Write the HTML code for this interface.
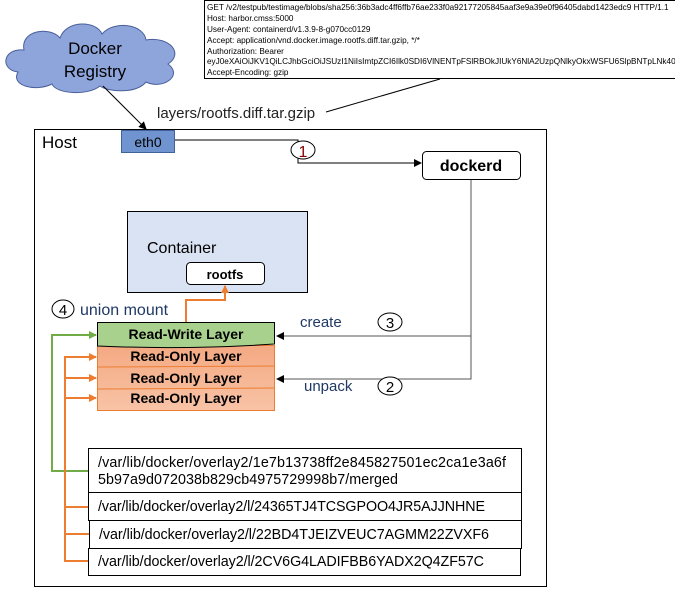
<!DOCTYPE html>
<html><head><meta charset="utf-8"><style>
body{margin:0;background:#fff;width:675px;height:589px;overflow:hidden;font-family:"Liberation Sans","Noto Sans CJK SC",sans-serif}
</style></head><body>
<svg width="675" height="589" xmlns="http://www.w3.org/2000/svg" style="position:absolute;left:0;top:0">
<defs>
<marker id="ak" markerWidth="8" markerHeight="8" refX="7" refY="4" orient="auto" markerUnits="userSpaceOnUse"><path d="M0,0 L8,4 L0,8z" fill="#000"/></marker>
<marker id="ao" markerWidth="8" markerHeight="8" refX="7" refY="4" orient="auto" markerUnits="userSpaceOnUse"><path d="M0,0 L8,4 L0,8z" fill="#ed7d31"/></marker>
<marker id="ag" markerWidth="8" markerHeight="8" refX="7" refY="4" orient="auto" markerUnits="userSpaceOnUse"><path d="M0,0 L8,4 L0,8z" fill="#70ad47"/></marker>
<linearGradient id="og" x1="0" y1="0" x2="0" y2="1"><stop offset="0" stop-color="#f4a982"/><stop offset="1" stop-color="#f8c3a6"/></linearGradient>
</defs>
<rect x="34.5" y="129.5" width="512" height="457" fill="none" stroke="#000"/>
<text x="42" y="148" font-size="17">Host</text>
<rect x="204.5" y="0.5" width="480" height="78" fill="#fff" stroke="#000"/>
<g font-size="8.2" fill="#000">
<text x="207" y="10">GET /v2/testpub/testimage/blobs/sha256:36b3adc4ff6ffb76ae233f0a92177205845aaf3e9a39e0f96405dabd1423edc9 HTTP/1.1</text>
<text x="207" y="21">Host: harbor.cmss:5000</text>
<text x="207" y="32">User-Agent: containerd/v1.3.9-8-g070cc0129</text>
<text x="207" y="43">Accept: application/vnd.docker.image.rootfs.diff.tar.gzip, */*</text>
<text x="207" y="54">Authorization: Bearer</text>
<text x="207" y="64">eyJ0eXAiOiJKV1QiLCJhbGciOiJSUzI1NiIsImtpZCI6Ilk0SDI6VlNENTpFSlRBOkJIUkY6NlA2UzpQNlkyOkxWSFU6SlpBNTpLNk40OkpL</text>
<text x="207" y="75">Accept-Encoding: gzip</text>
</g>
<path d="M18,72 C0,70 2,48 24,50 C20,30 50,26 60,38 C66,20 96,20 102,34 C114,20 144,24 146,40 C170,36 184,54 168,64 C184,76 162,90 146,82 C136,94 108,92 100,86 C88,96 56,94 52,84 C36,92 10,86 18,72z" fill="#8ea5dc" stroke="#4a5f9a"/>
<text x="95" y="54" font-size="17" text-anchor="middle">Docker</text>
<text x="95" y="77" font-size="17" text-anchor="middle">Registry</text>
<line x1="103" y1="86" x2="146" y2="129" stroke="#000" marker-end="url(#ak)"/>
<rect x="121.5" y="130.5" width="53" height="22" fill="#7094d0" stroke="#41619a"/>
<text x="148" y="147" font-size="14" text-anchor="middle">eth0</text>
<text x="157" y="118" font-size="15" fill="#222">layers/rootfs.diff.tar.gzip</text>
<line x1="326" y1="112" x2="440" y2="79" stroke="#000"/>
<polyline points="175,140 298,140 298,163 421,163" fill="none" stroke="#000" marker-end="url(#ak)"/>
<ellipse cx="303" cy="150" rx="12" ry="9" fill="#fff" stroke="#000"/>
<text x="303" y="157" font-size="16" text-anchor="middle" fill="#8b0000">1</text>
<rect x="422.5" y="151.5" width="98" height="28" rx="4" fill="#fff" stroke="#000"/>
<text x="471" y="171" font-size="16" font-weight="bold" text-anchor="middle">dockerd</text>
<polyline points="471,180 471,379 277,379" fill="none" stroke="#555" marker-end="url(#ak)"/>
<line x1="471" y1="336" x2="277" y2="336" stroke="#555" marker-end="url(#ak)"/>
<text x="300" y="327" font-size="15" fill="#1f3864">create</text>
<ellipse cx="390" cy="322" rx="12" ry="9" fill="#fff" stroke="#000"/>
<text x="390" y="328" font-size="15" text-anchor="middle">3</text>
<text x="304" y="391" font-size="15" fill="#1f3864">unpack</text>
<ellipse cx="390" cy="386" rx="12" ry="9" fill="#fff" stroke="#000"/>
<text x="390" y="392" font-size="15" text-anchor="middle">2</text>
<rect x="127.5" y="211.5" width="180" height="81" fill="#dae3f3" stroke="#000"/>
<text x="147" y="253" font-size="16">Container</text>
<rect x="186.5" y="262.5" width="78" height="22" rx="4" fill="#fff" stroke="#000"/>
<text x="225" y="279" font-size="13" font-weight="bold" text-anchor="middle">rootfs</text>
<polyline points="186,322 186,300 225,300 225,286" fill="none" stroke="#ed7d31" stroke-width="2" marker-end="url(#ao)"/>
<ellipse cx="63" cy="309" rx="11" ry="9" fill="#fff" stroke="#000"/>
<text x="63" y="315" font-size="15" text-anchor="middle">4</text>
<text x="80" y="315" font-size="16" fill="#1f3864">union mount</text>
<rect x="97.5" y="345.5" width="177" height="65" fill="url(#og)" stroke="#ed7d31"/>
<line x1="97" y1="367" x2="275" y2="366" stroke="#ed7d31"/>
<line x1="97" y1="389" x2="275" y2="388" stroke="#ed7d31"/>
<path d="M97.5,322.5 H274.5 V344 Q186,350 97.5,346 Z" fill="#a9d18e" stroke="#000"/>
<g font-size="14" font-weight="bold" text-anchor="middle">
<text x="186" y="339">Read-Write Layer</text>
<text x="186" y="361">Read-Only Layer</text>
<text x="186" y="383">Read-Only Layer</text>
<text x="186" y="403">Read-Only Layer</text>
</g>
<polyline points="88,471 52,471 52,335 96,335" fill="none" stroke="#70ad47" stroke-width="2" marker-end="url(#ag)"/>
<g stroke="#ed7d31" stroke-width="2" fill="none">
<polyline points="96,357 65,357 65,561 88,561"/>
<line x1="65" y1="378" x2="96" y2="378" marker-end="url(#ao)"/>
<line x1="65" y1="398" x2="96" y2="398" marker-end="url(#ao)"/>
<line x1="65" y1="357" x2="96" y2="357" marker-end="url(#ao)"/>
<line x1="65" y1="507" x2="88" y2="507"/>
<line x1="65" y1="534" x2="89" y2="534"/>
</g>
<g fill="#fff" stroke="#000">
<rect x="88.5" y="448.5" width="433" height="44"/>
<rect x="88.5" y="492.5" width="433" height="28"/>
<rect x="89.5" y="520.5" width="432" height="28"/>
<rect x="88.5" y="548.5" width="432" height="27"/>
</g>
<g font-size="14.3">
<text x="98" y="467" textLength="408">/var/lib/docker/overlay2/1e7b13738ff2e845827501ec2ca1e3a6f</text>
<text x="98" y="484" textLength="300">5b97a9d072038b829cb4975729998b7/merged</text>
<text x="98" y="511" textLength="387">/var/lib/docker/overlay2/l/24365TJ4TCSGPOO4JR5AJJNHNE</text>
<text x="99" y="539" textLength="390">/var/lib/docker/overlay2/l/22BD4TJEIZVEUC7AGMM22ZVXF6</text>
<text x="98" y="566" textLength="386">/var/lib/docker/overlay2/l/2CV6G4LADIFBB6YADX2Q4ZF57C</text>
</g>
</svg>
</body></html>
